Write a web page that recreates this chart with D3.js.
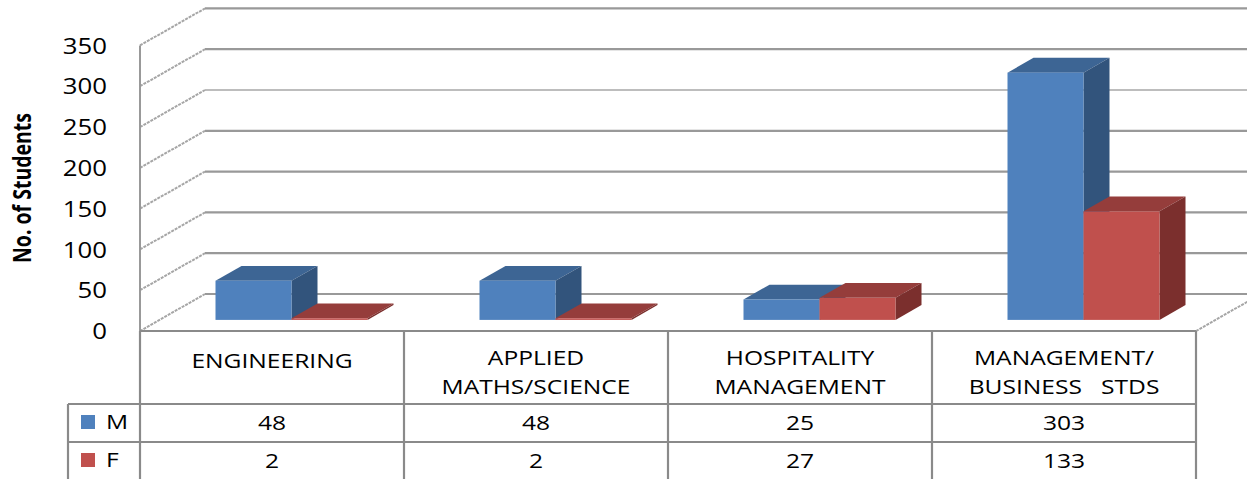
<!DOCTYPE html>
<html><head><meta charset="utf-8">
<script src="https://cdn.jsdelivr.net/npm/d3@7"></script>
<style>
html,body{margin:0;padding:0;background:#fff;}
svg text{font-family:"Open Sans",Lato,sans-serif;fill:#000;}
</style></head>
<body>
<svg id="c" width="1247" height="479"></svg>
<script>
const categories = [["ENGINEERING"], ["APPLIED", "MATHS/SCIENCE"], ["HOSPITALITY", "MANAGEMENT"], ["MANAGEMENT/", "BUSINESS   STDS"]];
const seriesNames = ["M", "F"];
const valuesM = [48, 48, 25, 303];
const valuesF = [2, 2, 27, 133];
const yTicks = [0, 50, 100, 150, 200, 250, 300, 350];
const yTitle = "No. of Students";

const colors = {
  M: {front: "#4f81bd", top: "#3d6594", side: "#32547c"},
  F: {front: "#c0504d", top: "#953d3b", side: "#7b2f2d"}
};
const svg = d3.select("#c");
const SX = 1.2;               // horizontal stretch of text
const depthDX = 65, depthDY = 37;
const floorY = 331;
const y = d3.scaleLinear().domain([0, 350]).range([floorY, floorY - 350 * 0.816]);
const x = d3.scaleBand().domain(d3.range(categories.length)).range([140, 1196]).paddingInner(0).paddingOuter(0);
const barW = 76;
const xs = d3.scaleBand().domain(seriesNames).range([0, 2 * barW]);
const zF = 0.30, zB = 0.70;
function P(px, v, z) { return [px + z * depthDX, y(v) - z * depthDY]; }
const grid = "#999";

// back wall gridlines + left wall diagonals
const g0 = svg.append("g");
yTicks.forEach(t => {
  const a = P(140, t, 1);
  g0.append("line").attr("x1", a[0]).attr("y1", a[1]).attr("x2", 1300).attr("y2", a[1])
    .attr("stroke", t === 250 ? "#bdbdbd" : grid).attr("stroke-width", 2.2);
  const f = P(140, t, 0);
  g0.append("line").attr("x1", f[0]).attr("y1", f[1]).attr("x2", a[0]).attr("y2", a[1])
    .attr("stroke", "#a6a6a6").attr("stroke-width", 2).attr("stroke-dasharray", "3,1");
});
// left wall front edge
g0.append("line").attr("x1", 140).attr("x2", 140).attr("y1", y(350)).attr("y2", floorY)
  .attr("stroke", grid).attr("stroke-width", 2);
// floor right diagonal
{
  const f = P(1196, 0, 0), b = P(1196, 0, 1);
  g0.append("line").attr("x1", f[0]).attr("y1", f[1]).attr("x2", b[0]).attr("y2", b[1])
    .attr("stroke", "#a6a6a6").attr("stroke-width", 2).attr("stroke-dasharray", "3,1");
}

// bars
const data = [];
categories.forEach((c, i) => {
  data.push({i, s: "M", v: valuesM[i]});
  data.push({i, s: "F", v: valuesF[i]});
});
const gB = svg.append("g");
data.forEach(d => {
  const x0 = x(d.i) + (x.bandwidth() - 2 * barW) / 2 + xs(d.s);
  const x1 = x0 + barW;
  const c = colors[d.s];
  const poly = pts => pts.map(p => p.join(",")).join(" ");
  gB.append("polygon").attr("points", poly([P(x0, d.v, zF), P(x1, d.v, zF), P(x1, d.v, zB), P(x0, d.v, zB)]))
    .attr("fill", c.top);
  gB.append("polygon").attr("points", poly([P(x1, 0, zF), P(x1, d.v, zF), P(x1, d.v, zB), P(x1, 0, zB)]))
    .attr("fill", c.side);
  const a = P(x0, d.v, zF), b = P(x1, 0, zF);
  gB.append("rect").attr("x", a[0]).attr("y", a[1]).attr("width", b[0] - a[0]).attr("height", b[1] - a[1])
    .attr("fill", c.front);
});

// y axis
const ax = svg.append("g").attr("transform", "translate(107,0)")
  .call(d3.axisLeft(y).tickValues(yTicks).tickSize(0).tickPadding(0));
ax.select(".domain").remove();
ax.selectAll("text").attr("x", 0).attr("dy", "0.36em")
  .attr("transform", `scale(${SX},1)`)
  .style("font-size", "21.5px").style("font-family", '"Open Sans",Lato,sans-serif').attr("fill", "#000");

// y title
svg.append("text").attr("transform", `translate(31,188) scale(1.25,1) rotate(-90)`)
  .attr("text-anchor", "middle").style("font-size", "19.5px").style("font-weight", "bold").text(yTitle);

// data table
const tb = svg.append("g");
const lineC = "#8a8a8a";
const rowY = [floorY, 404, 442, 479];
function L(x1, y1, x2, y2) {
  tb.append("line").attr("x1", x1).attr("y1", y1).attr("x2", x2).attr("y2", y2)
    .attr("stroke", lineC).attr("stroke-width", 2.2);
}
L(140, floorY, 1196, floorY);
L(68, rowY[1], 1196, rowY[1]);
L(68, rowY[2], 1196, rowY[2]);
L(68, rowY[1], 68, 479);
d3.range(categories.length + 1).forEach(k => {
  const xx = k < categories.length ? x(k) : x(categories.length - 1) + x.bandwidth();
  L(xx, floorY, xx, 479);
});
function T(cx, cy, str, anchor) {
  tb.append("g").attr("transform", `translate(${cx},${cy})`)
    .append("text").attr("transform", `scale(${SX},1)`).attr("text-anchor", anchor || "middle")
    .attr("dy", "0.36em").style("font-size", "20.5px").style("white-space", "pre").text(str);
}
categories.forEach((lines, i) => {
  const cx = x(i) + x.bandwidth() / 2;
  lines.forEach((ln, j) => T(cx, (lines.length > 1 ? 358 : 361) + j * 28.5, ln));
  T(cx, 423, String(valuesM[i]));
  T(cx, 461, String(valuesF[i]));
});
seriesNames.forEach((s, j) => {
  const cy = j === 0 ? 422 : 460;
  tb.append("rect").attr("x", 81).attr("y", cy - 7).attr("width", 14).attr("height", 14).attr("fill", colors[s].front);
  T(106, cy, s, "start");
});
</script>
</body></html>
